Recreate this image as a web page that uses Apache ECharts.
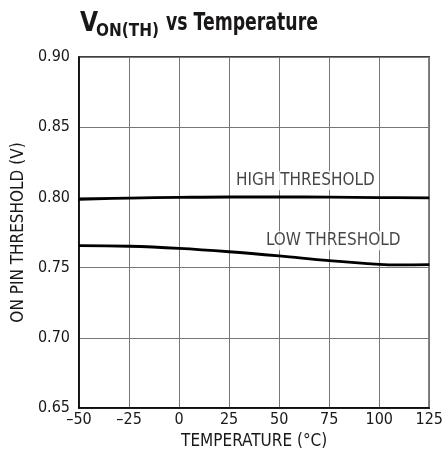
<!DOCTYPE html>
<html>
<head>
<meta charset="utf-8">
<script src="https://cdn.jsdelivr.net/npm/echarts@6/dist/echarts.min.js"></script>
<style>
html,body{margin:0;padding:0;background:#fff;}
#chart{width:446px;height:461px;}
</style>
</head>
<body>
<div id="chart"></div>
<script>
// Data
var highTemps = [-50, -25, 0, 25, 50, 75, 100, 125];
var highVals  = [0.7986, 0.7995, 0.8000, 0.8003, 0.8003, 0.8002, 0.7999, 0.7997];
var lowTemps  = [-50, -25, 0, 25, 50, 75, 100, 110, 125];
var lowVals   = [0.7656, 0.7652, 0.7637, 0.7613, 0.7583, 0.7549, 0.7523, 0.7519, 0.7521];
var curveLabels = ['HIGH THRESHOLD', 'LOW THRESHOLD'];
var labelTemps  = [63.1, 77.0];
var labelVals   = [0.8119, 0.7692];
var xTitle = 'TEMPERATURE (°C)';
var yTitle = 'ON PIN THRESHOLD (V)';

var FONT = "'DejaVu Sans Condensed', 'Liberation Sans', sans-serif";
var INK = '#1a1718';

function pairs(xs, ys) { return xs.map(function (x, i) { return [x, ys[i]]; }); }

var chart = echarts.init(document.getElementById('chart'));
chart.setOption({
  animation: false,
  backgroundColor: '#fff',
  graphic: [
    { type: 'text', left: 80, top: 11, style: { text: 'V', font: "bold 26px " + FONT, fill: INK } },
    { type: 'text', left: 96, top: 23, style: { text: 'ON(TH)', font: "bold 17px " + FONT, fill: INK } },
    { type: 'text', x: 166, y: 11, scaleX: 0.77, style: { text: 'vs Temperature', font: "bold 25px " + FONT, fill: INK } }
  ],
  grid: { left: 79, right: 15, top: 57, bottom: 53, show: true, borderColor: '#000', borderWidth: 1.5, backgroundColor: 'transparent' },
  xAxis: {
    type: 'value', min: -50, max: 125, interval: 25,
    name: xTitle, nameLocation: 'middle', nameGap: 18,
    nameTextStyle: { fontFamily: FONT, fontSize: 17, color: INK },
    axisLine: { onZero: false, lineStyle: { color: '#000', width: 1.5 } },
    axisTick: { show: false },
    axisLabel: { margin: 4, fontFamily: FONT, fontSize: 16, color: INK,
      formatter: function (v) { return String(v).replace('-', '\u2013'); } },
    splitLine: { show: true, lineStyle: { color: '#777', width: 1 } }
  },
  yAxis: {
    type: 'value', min: 0.65, max: 0.90, interval: 0.05,
    name: yTitle, nameLocation: 'middle', nameGap: 52,
    nameTextStyle: { fontFamily: FONT, fontSize: 17, color: INK },
    axisLine: { show: true, onZero: false, lineStyle: { color: '#000', width: 1.5 } },
    axisTick: { show: false },
    axisLabel: { margin: 9, fontFamily: FONT, fontSize: 16, color: INK,
      formatter: function (v) { return v.toFixed(2); } },
    splitLine: { show: true, lineStyle: { color: '#777', width: 1 } }
  },
  series: [
    { type: 'line', data: pairs(highTemps, highVals), smooth: 0.4, showSymbol: false,
      lineStyle: { color: '#000', width: 2.8 } },
    { type: 'line', data: pairs(lowTemps, lowVals), smooth: 0.4, showSymbol: false,
      lineStyle: { color: '#000', width: 2.8 } },
    { type: 'scatter', symbolSize: 0, silent: true,
      data: labelTemps.map(function (t, i) { return { value: [t, labelVals[i]], name: curveLabels[i] }; }),
      label: { show: true, position: 'inside', formatter: '{b}', fontFamily: FONT, fontSize: 17, color: INK,
        backgroundColor: '#fff', padding: [1, 2] } }
  ]
});
</script>
</body>
</html>
